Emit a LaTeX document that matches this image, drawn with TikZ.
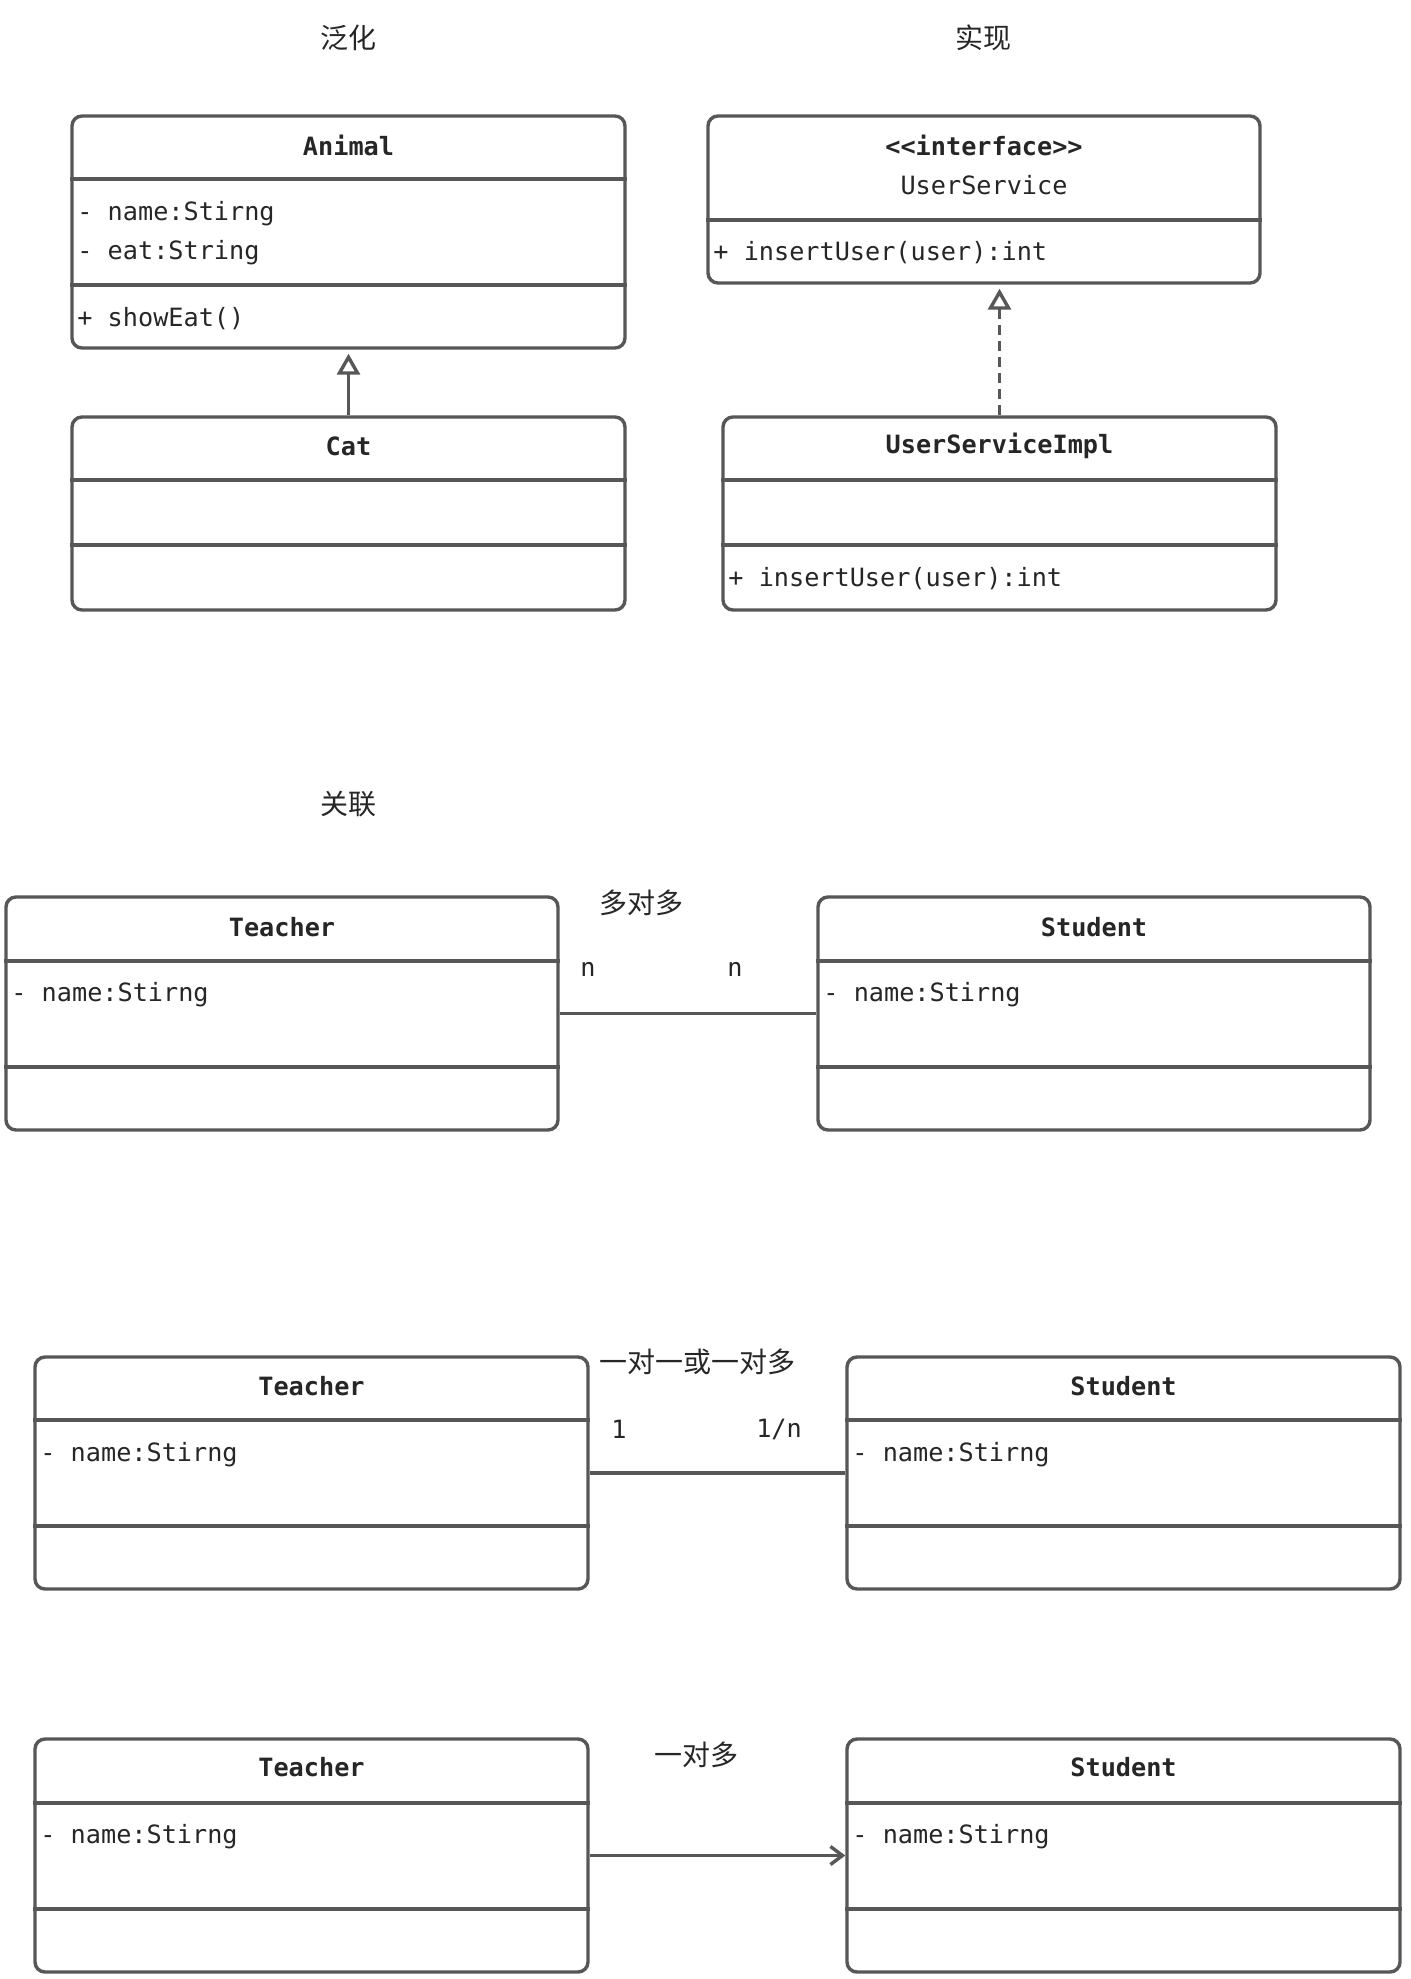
\documentclass[tikz,border=0pt]{standalone}
\usepackage{fontspec}
\setmonofont{DejaVu Sans Mono}
\newfontfamily\cjk{Noto Sans CJK SC}
\usetikzlibrary{arrows.meta}
\definecolor{linegray}{HTML}{575757}
\definecolor{txt}{HTML}{262626}
\begin{document}
\begin{tikzpicture}[x=0.5pt,y=-0.5pt,
  umlbox/.style={draw=linegray, line width=1.7pt, rounded corners=5pt, inner sep=0pt},
  sep/.style={draw=linegray, line width=1.7pt},
  mono/.style={font=\fontsize{12.6}{15}\ttfamily, text=txt, inner sep=0pt},
  title/.style={font=\fontsize{12.6}{15}\ttfamily\bfseries, text=txt, inner sep=0pt},
  attr/.style={mono, anchor=west},
  cn/.style={font=\fontsize{14}{16}\cjk, text=txt, inner sep=0pt},
  conn/.style={draw=linegray, line width=1.7pt},
  gen/.style={conn, -{Triangle[open, length=10.5pt, width=11.5pt, fill=white, line width=1.7pt]}, shorten >=2pt},
]
\useasboundingbox[fill=white] (0,0) rectangle (1410,1979);

% section titles
\node[cn] (tgen) at (348,38) {泛化};
\node[cn] (timp) at (983,38) {实现};
\node[cn] (tass) at (348,804) {关联};

% Animal
\node[umlbox, minimum width=276.5pt, minimum height=116pt] (animal) at (348.5,232) {};
\draw[sep] (animal.west |- 0,179) -- (animal.east |- 0,179);
\draw[sep] (animal.west |- 0,285) -- (animal.east |- 0,285);
\node[title] (animalT) at (348.5,145) {Animal};
\node[attr] (animalA1) at (77,214) {- name:Stirng};
\node[attr] (animalA2) at (77,253) {- eat:String};
\node[attr] (animalM1) at (77,319) {+ showEat()};

% Cat
\node[umlbox, minimum width=276.5pt, minimum height=96.5pt] (cat) at (348.5,513.5) {};
\draw[sep] (cat.west |- 0,480) -- (cat.east |- 0,480);
\draw[sep] (cat.west |- 0,545) -- (cat.east |- 0,545);
\node[title] (catT) at (348.5,446) {Cat};

\draw[gen] (cat.north) -- (animal.south);

% Interface
\node[umlbox, minimum width=276pt, minimum height=83.5pt] (iface) at (984,199.5) {};
\draw[sep] (iface.west |- 0,220) -- (iface.east |- 0,220);
\node[title] (ifaceS) at (984,145) {{<}{<}interface{>}{>}};
\node[mono] (ifaceT) at (984,185) {UserService};
\node[attr] (ifaceM1) at (713,253) {+ insertUser(user):int};

% Impl
\node[umlbox, minimum width=276.5pt, minimum height=96.5pt] (impl) at (999.5,513.5) {};
\draw[sep] (impl.west |- 0,480) -- (impl.east |- 0,480);
\draw[sep] (impl.west |- 0,545) -- (impl.east |- 0,545);
\node[title] (implT) at (999.5,446) {UserServiceImpl};
\node[attr] (implM1) at (728,579) {+ insertUser(user):int};

\draw[gen, dash pattern=on 5pt off 3pt] (impl.north) -- (impl.north |- iface.south);

% Row 1
\node[umlbox, minimum width=276pt, minimum height=116.5pt] (t1) at (282,1013.5) {};
\draw[sep] (t1.west |- 0,961) -- (t1.east |- 0,961);
\draw[sep] (t1.west |- 0,1067) -- (t1.east |- 0,1067);
\node[title] (t1T) at (282,927) {Teacher};
\node[attr] (t1A) at (11,995) {- name:Stirng};

\node[umlbox, minimum width=276pt, minimum height=116.5pt] (s1) at (1094,1013.5) {};
\draw[sep] (s1.west |- 0,961) -- (s1.east |- 0,961);
\draw[sep] (s1.west |- 0,1067) -- (s1.east |- 0,1067);
\node[title] (s1T) at (1094,927) {Student};
\node[attr] (s1A) at (823,995) {- name:Stirng};

\draw[conn] (t1.east) -- (s1.west);
\node[cn] (l1) at (641,903) {多对多};
\node[mono] (l1a) at (588,969) {n};
\node[mono] (l1b) at (735,969) {n};

% Row 2
\node[umlbox, minimum width=276.5pt, minimum height=116pt] (t2) at (311.5,1473) {};
\draw[sep] (t2.west |- 0,1420) -- (t2.east |- 0,1420);
\draw[sep] (t2.west |- 0,1526) -- (t2.east |- 0,1526);
\node[title] (t2T) at (311.5,1386) {Teacher};
\node[attr] (t2A) at (40,1455) {- name:Stirng};

\node[umlbox, minimum width=276.5pt, minimum height=116pt] (s2) at (1123.5,1473) {};
\draw[sep] (s2.west |- 0,1420) -- (s2.east |- 0,1420);
\draw[sep] (s2.west |- 0,1526) -- (s2.east |- 0,1526);
\node[title] (s2T) at (1123.5,1386) {Student};
\node[attr] (s2A) at (852,1455) {- name:Stirng};

\draw[conn] (t2.east) -- (s2.west);
\node[cn] (l2) at (697,1362) {一对一或一对多};
\node[mono] (l2a) at (619,1429) {1};
\node[mono] (l2b) at (779,1429) {1/n};

% Row 3
\node[umlbox, minimum width=276.5pt, minimum height=116.5pt] (t3) at (311.5,1855.5) {};
\draw[sep] (t3.west |- 0,1803) -- (t3.east |- 0,1803);
\draw[sep] (t3.west |- 0,1909) -- (t3.east |- 0,1909);
\node[title] (t3T) at (311.5,1767) {Teacher};
\node[attr] (t3A) at (40,1837) {- name:Stirng};

\node[umlbox, minimum width=276.5pt, minimum height=116.5pt] (s3) at (1123.5,1855.5) {};
\draw[sep] (s3.west |- 0,1803) -- (s3.east |- 0,1803);
\draw[sep] (s3.west |- 0,1909) -- (s3.east |- 0,1909);
\node[title] (s3T) at (1123.5,1767) {Student};
\node[attr] (s3A) at (852,1837) {- name:Stirng};

\draw[conn, -{Straight Barb[length=6pt, width=9pt]}] (t3.east) -- (s3.west);
\node[cn] (l3) at (696,1755) {一对多};
\end{tikzpicture}
\end{document}
